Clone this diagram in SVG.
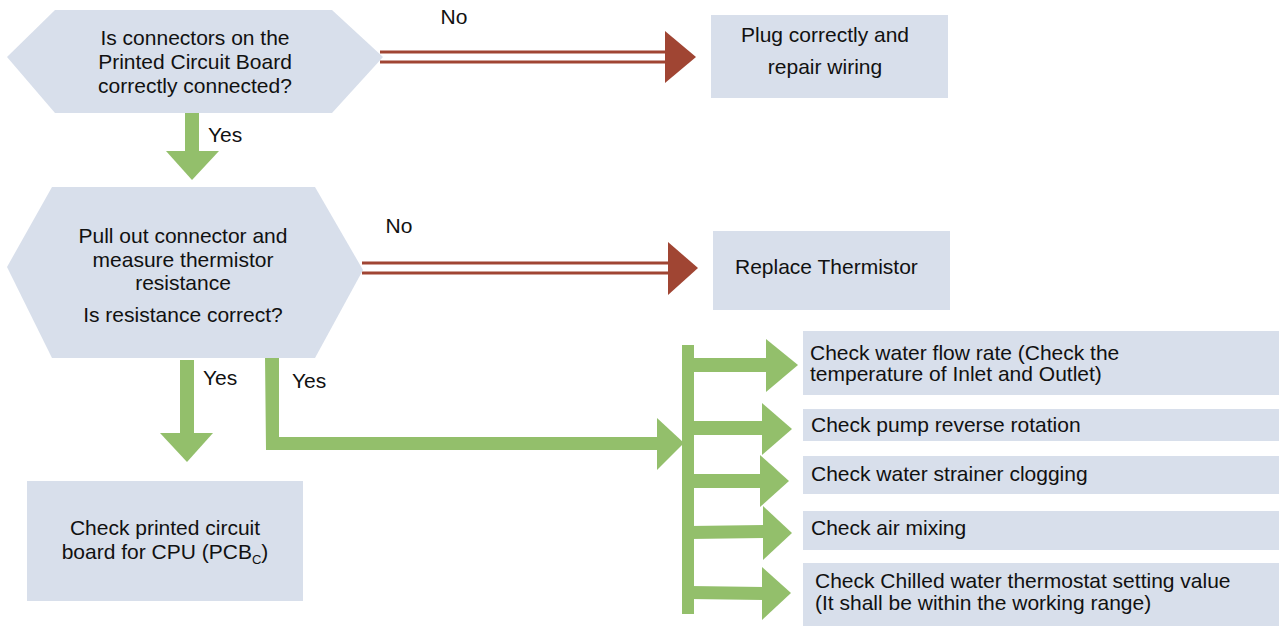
<svg xmlns="http://www.w3.org/2000/svg" width="1279" height="626" viewBox="0 0 1279 626">
<style>
.node{fill:#D8DFEB}
.t{font-family:"Liberation Sans",Arial,sans-serif;font-size:21px;fill:#111}
.c{text-anchor:middle}
.g{fill:#93BF6B}
.r{fill:#A04533}
.rl{stroke:#A04533;stroke-width:3;fill:none}
</style>
<rect width="1279" height="626" fill="#fff"/>
<g id="connectors">
  <line class="rl" x1="380" y1="52" x2="667" y2="52"/>
  <line class="rl" x1="380" y1="62" x2="667" y2="62"/>
  <polygon class="r" points="665,31 696,57 665,83"/>
  <text class="t" x="454" y="24" text-anchor="middle" font-size="20">No</text>
  <rect class="g" x="185" y="113" width="14" height="38"/>
  <polygon class="g" points="166,151 219,151 192,180"/>
  <text class="t" x="208" y="142" font-size="20">Yes</text>
  <line class="rl" x1="362" y1="263" x2="670" y2="263"/>
  <line class="rl" x1="362" y1="273" x2="670" y2="273"/>
  <polygon class="r" points="668,242 698,268 668,295"/>
  <text class="t" x="399" y="233" text-anchor="middle" font-size="20">No</text>
  <rect class="g" x="180" y="360" width="14" height="74"/>
  <polygon class="g" points="160,433 213,433 187,462"/>
  <text class="t" x="203" y="385" font-size="20">Yes</text>
  <polygon class="g" points="265,356 279,356 279,437 658,437 658,450 266,450"/>
  <polygon class="g" points="657,418 684,443 657,470"/>
  <text class="t" x="292" y="388" font-size="20">Yes</text>
  <rect class="g" x="682" y="345" width="12" height="269"/>
  <rect class="g" x="690" y="358" width="77" height="14"/>
  <polygon class="g" points="766,339 798,365 766,392"/>
  <rect class="g" x="690" y="421" width="74" height="14"/>
  <polygon class="g" points="762,403 792,429 762,455"/>
  <rect class="g" x="690" y="474" width="72" height="14"/>
  <polygon class="g" points="760,455 789,481 760,507"/>
  <polygon class="g" points="690,526 765,525 765,538 690,539"/>
  <polygon class="g" points="763,506 792,533 763,560"/>
  <polygon class="g" points="690,586 765,587 765,600 690,599"/>
  <polygon class="g" points="762,567 791,593 762,620"/>
</g>
<g id="q1">
  <polygon class="node" points="7,57 55,10 332,10 383,57 332,113 55,113"/>
  <text class="t c" x="195" y="45">Is connectors on the</text>
  <text class="t c" x="195" y="69">Printed Circuit Board</text>
  <text class="t c" x="195" y="93">correctly connected?</text>
</g>
<g id="fix1">
  <rect class="node" x="711" y="15" width="237" height="83"/>
  <text class="t c" x="825" y="42">Plug correctly and</text>
  <text class="t c" x="825" y="74">repair wiring</text>
</g>
<g id="q2">
  <polygon class="node" points="7,267 52,187 315,187 363,270 315,358 52,358"/>
  <text class="t c" x="183" y="243">Pull out connector and</text>
  <text class="t c" x="183" y="267">measure thermistor</text>
  <text class="t c" x="183" y="290">resistance</text>
  <text class="t c" x="183" y="322">Is resistance correct?</text>
</g>
<g id="fix2">
  <rect class="node" x="713" y="231" width="237" height="79"/>
  <text class="t" x="735" y="274">Replace Thermistor</text>
</g>
<g id="pcb">
  <rect class="node" x="27" y="481" width="276" height="120"/>
  <text class="t c" x="165" y="535">Check printed circuit</text>
  <text class="t c" x="165" y="559">board for CPU (PCB<tspan font-size="13" dy="5">C</tspan><tspan dy="-5">)</tspan></text>
</g>
<g id="chk1">
  <rect class="node" x="803" y="331" width="476" height="64"/>
  <text class="t" x="810" y="360">Check water flow rate (Check the</text>
  <text class="t" x="810" y="381">temperature of Inlet and Outlet)</text>
</g>
<g id="chk2">
  <rect class="node" x="803" y="409" width="476" height="32"/>
  <text class="t" x="811" y="432">Check pump reverse rotation</text>
</g>
<g id="chk3">
  <rect class="node" x="803" y="456" width="476" height="38"/>
  <text class="t" x="811" y="481">Check water strainer clogging</text>
</g>
<g id="chk4">
  <rect class="node" x="803" y="511" width="476" height="39"/>
  <text class="t" x="811" y="535">Check air mixing</text>
</g>
<g id="chk5">
  <rect class="node" x="803" y="563" width="476" height="63"/>
  <text class="t" x="815" y="588">Check Chilled water thermostat setting value</text>
  <text class="t" x="815" y="610">(It shall be within the working range)</text>
</g>
</svg>
